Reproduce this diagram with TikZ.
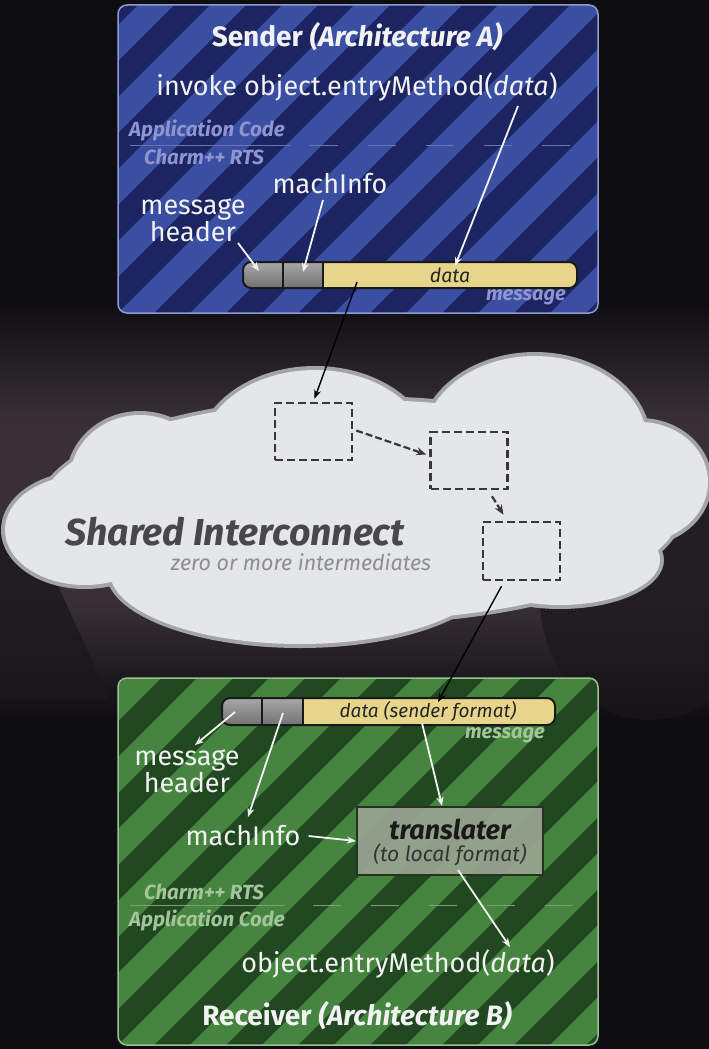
\documentclass[tikz,border=0pt]{standalone}
\usepackage{fontspec}
\setmainfont{Fira Sans}
\usetikzlibrary{arrows.meta,calc}
\definecolor{bgdark}{HTML}{0E0D12}
\definecolor{bgmid}{HTML}{383036}
\definecolor{bgshape}{HTML}{1B171A}
\definecolor{bluedark}{HTML}{1C2562}
\definecolor{bluelight}{HTML}{3A4FA2}
\definecolor{blueedge}{HTML}{8E9AD0}
\definecolor{greendark}{HTML}{214820}
\definecolor{greenlight}{HTML}{458540}
\definecolor{greenedge}{HTML}{9CC092}
\definecolor{lavender}{HTML}{8E95D0}
\definecolor{sagetext}{HTML}{A4C49A}
\definecolor{msgyellow}{HTML}{E6D58A}
\definecolor{seglight}{HTML}{A8A8A8}
\definecolor{segdark}{HTML}{727272}
\definecolor{cloudfill}{HTML}{E4E6EA}
\definecolor{cloudedge}{HTML}{A2A4A8}
\definecolor{cloudtext}{HTML}{47474C}
\definecolor{cloudsub}{HTML}{8E8E92}
\definecolor{boxdash}{HTML}{38383C}
\definecolor{transfill}{HTML}{9AA592}
\definecolor{transedge}{HTML}{26321F}
\definecolor{offwhite}{HTML}{F2F2F2}
\newcommand\fsz[1]{\fontsize{#1}{#1}\selectfont}
\begin{document}
\begin{tikzpicture}[x=1pt,y=-1pt,
  wtxt/.style={text=offwhite, inner sep=0pt},
  layertxt/.style={inner sep=0pt, anchor=west, font=\fsz{20.5}\bfseries\itshape},
  warrow/.style={draw=offwhite, line width=1.8pt, -{Stealth[length=9pt,width=7pt]}},
  karrow/.style={draw=black, line width=1.4pt, -{Stealth[length=9pt,width=7pt]}},
  kdarrow/.style={draw=boxdash, line width=2.2pt, dash pattern=on 7pt off 3pt, -{Stealth[length=10pt,width=8pt]}},
  hopbox/.style={draw=boxdash, line width=2.5pt, dash pattern=on 8pt off 4pt, minimum width=77pt, minimum height=57pt, inner sep=0pt},
  bartxt/.style={inner sep=0pt, text=black!85, font=\fsz{19.5}\itshape},
  msgtag/.style={inner sep=0pt, anchor=east, font=\fsz{20}\bfseries\itshape},
  twoline/.style={wtxt, align=center, font=\fontsize{27}{25}\selectfont}
]
\useasboundingbox (0,0) rectangle (709,1049);
% background
\fill[bgdark] (0,0) rectangle (709,1049);
\shade[top color=bgdark, bottom color=bgmid] (0,300) rectangle (709,420);
\fill[bgmid] (0,420) rectangle (709,600);
\shade[top color=bgmid, bottom color=bgdark] (0,600) rectangle (709,720);
\fill[bgshape, opacity=0.8] (0,520) -- (35,535) -- (110,700) -- (0,700) -- cycle;
\fill[bgshape, opacity=0.7] (650,600) ellipse [x radius=110, y radius=120];

% ---------------- Sender box ----------------
\begin{scope}
\clip[rounded corners=9pt] (118,5) rectangle (598,313);
\fill[bluedark] (118,5) rectangle (598,313);
\foreach \i in {-6,...,8}
  \fill[bluelight] ({118+\i*72},313) -- ++(36,0) -- ++(308,-308) -- ++(-36,0) -- cycle;
\end{scope}
\draw[blueedge, line width=1.5pt, rounded corners=9pt] (118,5) rectangle (598,313);

\node[wtxt, font=\fsz{28}\bfseries] (stitle) at (357,37) {Sender \textit{(Architecture A)}};
\node[wtxt, font=\fsz{27}] (sinvoke) at (357,87) {invoke object.entryMethod(\textit{data})};
\coordinate (sinvdata) at (518,106);
\node[layertxt, text=lavender] (sapp) at (129,130) {Application Code};
\draw[lavender!70!bluedark, line width=1pt] (130,145) -- (290,145);
\draw[lavender!70!bluedark, line width=1pt, dash pattern=on 28pt off 30pt] (310,145) -- (578,145);
\node[layertxt, text=lavender] (srts) at (144,157) {Charm++ RTS};
\node[wtxt, font=\fsz{27}] (smach) at (330,184) {machInfo};
\node[twoline] (shdr) at (193,220) {message\\header};

% sender message bar
\begin{scope}
\clip[rounded corners=8pt] (243,262) rectangle (577,288);
\fill[msgyellow] (243,262) rectangle (577,288);
\shade[top color=seglight, bottom color=segdark] (243,262) rectangle (323,288);
\end{scope}
\draw[black!90, line width=2pt] (283,262) -- (283,288) (323,262) -- (323,288);
\draw[black!90, line width=2pt, rounded corners=8pt] (243,262) rectangle (577,288);
\node[bartxt] (sdata) at (450,275) {data};
\node[msgtag, text=lavender] (smsg) at (566,297) {message};
\coordinate (shdrseg) at (259,271);
\coordinate (smachseg) at (303,272);
\coordinate (sdatatop) at (455,266);
\coordinate (sdataout) at (357,282);
\coordinate (shdrtail) at (238,243);
\coordinate (smachtail) at (323,200);

\draw[warrow] (shdrtail) -- (shdrseg);
\draw[warrow] (smachtail) -- (smachseg);
\draw[warrow] (sinvdata) -- (sdatatop);

% ---------------- Cloud ----------------
\foreach \cx/\cy/\rx/\ry in {360/510/320/110, 140/480/70/65, 315/455/115/85, 535/442/112/86,
   640/482/68/60, 560/560/100/45, 300/572/190/72, 85/530/80/55}
  \fill[cloudedge] (\cx,\cy) ellipse [x radius=\rx+4, y radius=\ry+4];
\foreach \cx/\cy/\rx/\ry in {360/510/320/110, 140/480/70/65, 315/455/115/85, 535/442/112/86,
   640/482/68/60, 560/560/100/45, 300/572/190/72, 85/530/80/55}
  \fill[cloudfill] (\cx,\cy) ellipse [x radius=\rx, y radius=\ry];

\node[inner sep=0pt, text=cloudtext, font=\fsz{37.5}\bfseries\itshape] (shared) at (235,532) {Shared Interconnect};
\node[inner sep=0pt, text=cloudsub, font=\fsz{21.5}\itshape] (zero) at (301,562) {zero or more intermediates};

\node[hopbox] (b1) at (313.5,431.5) {};
\node[hopbox] (b2) at (469,460.5) {};
\node[hopbox, minimum height=58pt] (b3) at (521.5,551) {};

\draw[karrow] (sdataout) -- ($(b1.north)+(1,-3)$);
\draw[kdarrow] ($(b1.east)+(3,-1)$) -- ($(b2.west)+(-3,-6)$);
\draw[kdarrow] ($(b2.south)+(23,6)$) -- ($(b3.north)+(-18,-6)$);

% ---------------- Receiver box ----------------
\begin{scope}
\clip[rounded corners=9pt] (118,678) rectangle (598,1045);
\fill[greendark] (118,678) rectangle (598,1045);
\foreach \i in {-7,...,8}
  \fill[greenlight] ({118+\i*72},1045) -- ++(36,0) -- ++(367,-367) -- ++(-36,0) -- cycle;
\end{scope}
\draw[greenedge, line width=1.5pt, rounded corners=9pt] (118,678) rectangle (598,1045);

% receiver message bar
\begin{scope}
\clip[rounded corners=8pt] (222,698) rectangle (555,725);
\fill[msgyellow] (222,698) rectangle (555,725);
\shade[top color=seglight, bottom color=segdark] (222,698) rectangle (303,725);
\end{scope}
\draw[black!90, line width=2pt] (262,698) -- (262,725) (303,698) -- (303,725);
\draw[black!90, line width=2pt, rounded corners=8pt] (222,698) rectangle (555,725);
\node[bartxt, font=\fsz{19}\itshape] (rdata) at (428,711) {data (sender format)};
\node[msgtag, text=sagetext] (rmsg) at (545,735) {message};
\coordinate (rdatain) at (438,702);
\coordinate (rhdrseg) at (235,712);
\coordinate (rmachseg) at (283,713);
\coordinate (rdataseg) at (422,723);

\draw[karrow] ($(b3.south)+(-20,5)$) -- (rdatain);

\node[twoline] (rhdr) at (187,771) {message\\header};
\node[wtxt, font=\fsz{27}] (rmach) at (243,836) {machInfo};
\node[draw=transedge, line width=2pt, fill=transfill, fill opacity=0.92, minimum width=186pt, minimum height=68pt, inner sep=0pt] (trans) at (450,841) {};
\node[inner sep=0pt, text=black!90, font=\fsz{27}\bfseries\itshape] (transt) at (450,829) {translater};
\node[inner sep=0pt, text=black!80, font=\fsz{21}\itshape] (transs) at (450,855) {(to local format)};
\node[layertxt, text=sagetext] (rrts) at (144,892) {Charm++ RTS};
\draw[sagetext!70!greendark, line width=1pt] (130,905) -- (285,905);
\draw[sagetext!70!greendark, line width=1pt, dash pattern=on 28pt off 30pt] (313,905) -- (578,905);
\node[layertxt, text=sagetext] (rapp) at (129,920) {Application Code};
\node[wtxt, font=\fsz{27}] (robj) at (398,964) {object.entryMethod(\textit{data})};
\node[wtxt, font=\fsz{28}\bfseries] (rtitle) at (357,1016) {Receiver \textit{(Architecture B)}};

\coordinate (rhdrtip) at (195,745);
\coordinate (rmachtip) at (248,817);
\coordinate (rtransout) at (458,870);
\coordinate (robjdata) at (510,947);

\draw[warrow] (rhdrseg) -- (rhdrtip);
\draw[warrow] (rmachseg) -- (rmachtip);
\draw[warrow] (rdataseg) -- (trans.north -| 442,0);
\draw[warrow] (rmach.east) ++(8,0) -- (trans.west);
\draw[warrow] (rtransout) -- (robjdata);
\end{tikzpicture}
\end{document}
